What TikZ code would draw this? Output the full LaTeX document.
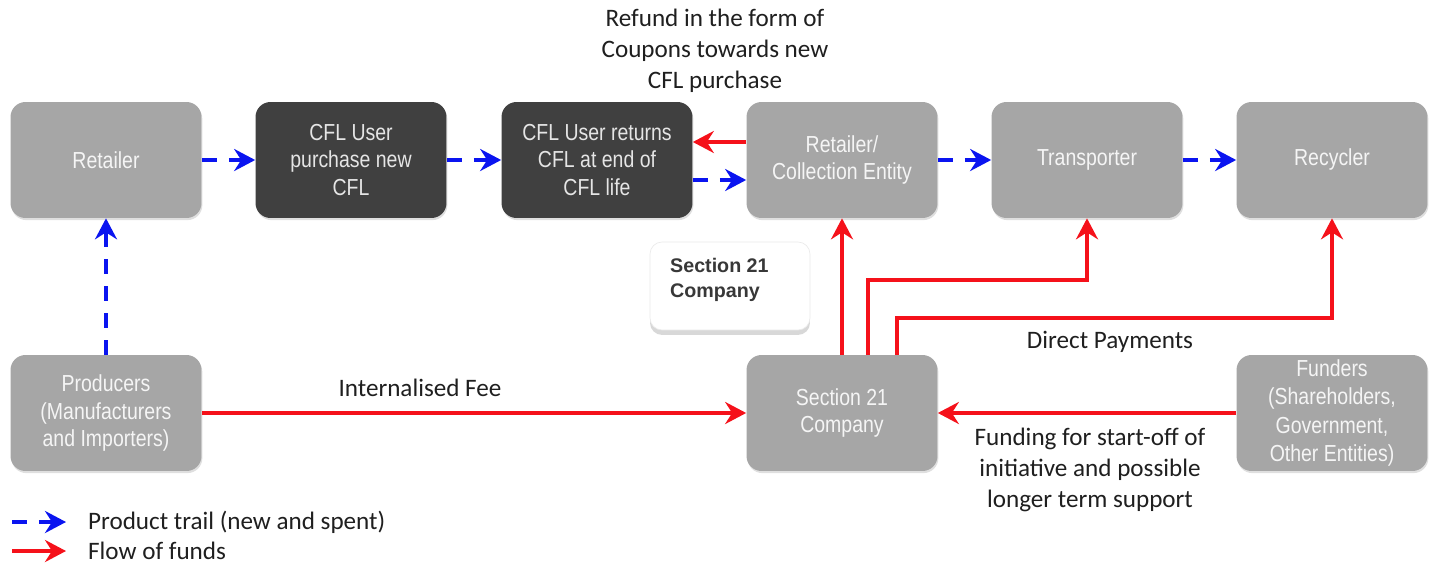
\documentclass[tikz,border=0pt]{standalone}
\usepackage{fontspec}
\setmainfont{Carlito}
\newfontfamily\boxfont[FakeStretch=0.84]{Liberation Sans}
\newfontfamily\notefont{Liberation Sans}
\usetikzlibrary{arrows.meta,shadows}

\definecolor{boxgray}{HTML}{A6A6A6}
\definecolor{boxdark}{HTML}{404040}
\definecolor{prodblue}{HTML}{0A14F0}
\definecolor{fundred}{HTML}{F5111A}

\tikzset{
  block/.style={rounded corners=0.3cm, minimum width=3.82cm, minimum height=2.32cm,
    align=center, text=white!96!black, font=\boxfont\fontsize{13.2}{15.8}\selectfont,
    drop shadow={opacity=0.25, shadow xshift=0.5pt, shadow yshift=-1.2pt}},
  lightbox/.style={block, fill=boxgray},
  darkbox/.style={block, fill=boxdark, text=white!90!black},
  prod/.style={draw=prodblue, line width=0.08cm, dash pattern=on 0.3cm off 0.24cm,
    -{Stealth[length=0.42cm, width=0.44cm, inset=0.14cm]}},
  fund/.style={draw=fundred, line width=0.08cm,
    -{Stealth[length=0.42cm, width=0.44cm, inset=0.14cm]}},
  lbl/.style={font=\fontsize{14.3}{17.8}\selectfont, align=center, text=black!88}
}

\begin{document}
\begin{tikzpicture}[x=0.02cm,y=-0.02cm]
\useasboundingbox[fill=white] (0,0) rectangle (1437,565);

% top row
\node[lightbox] (retailer) at (106,160) {Retailer};
\node[darkbox] (userbuy) at (351,160) {CFL User\\purchase new\\CFL};
\node[darkbox] (userret) at (597,160) {CFL User returns\\CFL at end of\\CFL life};
\node[lightbox] (collect) at (842,160) {Retailer/\\Collection Entity};
\node[lightbox] (transp) at (1087,160) {Transporter};
\node[lightbox] (recycler) at (1332,160) {Recycler};

% bottom row
\node[lightbox] (producers) at (106,413) {Producers\\(Manufacturers\\and Importers)};
\node[lightbox] (sec) at (842,413) {Section 21\\Company};
\node[lightbox, inner ysep=0pt, font=\boxfont\fontsize{13.2}{16.2}\selectfont] (funders) at (1332,413) {Funders\\(Shareholders,\\Government,\\Other Entities)};

% callout
\node[fill=white, draw=black!8, rounded corners=0.24cm, minimum width=3.2cm, minimum height=1.76cm,
  drop shadow={opacity=0.3, shadow xshift=0pt, shadow yshift=-2.8pt}] (note) at (730,286) {};
\node[anchor=west, align=left, text=black!78, font=\notefont\bfseries\fontsize{11.2}{14.2}\selectfont]
  (notetext) at (664,280) {Section 21\\Company};

% product trail
\draw[prod] (retailer) -- (userbuy);
\draw[prod] (userbuy) -- (userret);
\draw[prod] ([yshift=-0.4cm]userret.east) -- ([yshift=-0.4cm]collect.west);
\draw[prod] (collect) -- (transp);
\draw[prod] (transp) -- (recycler);
\draw[prod] (producers) -- (retailer);

% flow of funds
\draw[fund] ([yshift=0.36cm]collect.west) -- ([yshift=0.36cm]userret.east);
\draw[fund] (producers) -- (sec);
\draw[fund] (funders.west |- sec.east) -- (sec.east);
\draw[fund] (sec.north) -- (collect.south);
\draw[fund] ([xshift=0.52cm]sec.north) -- ++(0,-75) -| (transp.south);
\draw[fund] ([xshift=1.1cm]sec.north) -- ++(0,-37) -| (recycler.south);

% labels
\node[lbl] (refund) at (715,51) {Refund in the form of\\Coupons towards new\\CFL purchase};
\node[lbl] (fee) at (420,388) {Internalised Fee};
\node[lbl] (direct) at (1110,342) {Direct Payments};
\node[lbl] (funding) at (1090,470) {Funding for start-off of\\initiative and possible\\longer term support};

% legend
\coordinate (lp1) at (12,522);
\coordinate (lp2) at (66,522);
\coordinate (lf1) at (12,551);
\coordinate (lf2) at (66,551);
\draw[prod] (lp1) -- (lp2);
\draw[fund] (lf1) -- (lf2);
\node[lbl, anchor=west] (lprod) at (82,522) {Product trail (new and spent)};
\node[lbl, anchor=west] (lfund) at (82,551) {Flow of funds};
\end{tikzpicture}
\end{document}
